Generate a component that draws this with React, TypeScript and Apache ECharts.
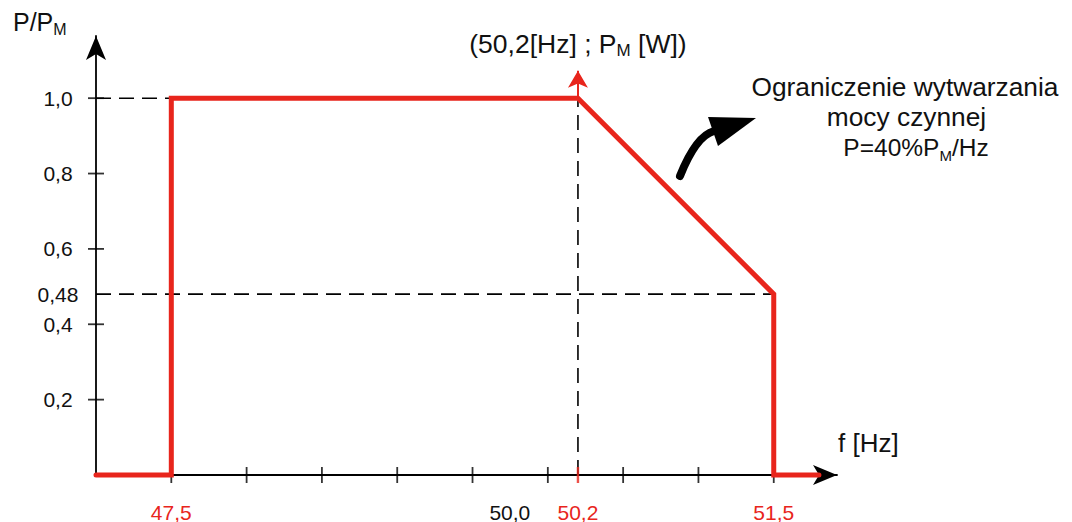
import React, { useEffect, useRef } from 'react';
import * as echarts from 'echarts';

// ---- data ----
const curveFreq = [47.0, 47.5, 47.5, 50.2, 51.5, 51.5, 51.8];
const curvePower = [0, 0, 1.0, 1.0, 0.48, 0, 0];
const xTickValues = [47.5, 48, 48.5, 49, 49.5, 50, 50.5, 51, 51.5];
const xLabelValues = [47.5, 50.0, 50.2, 51.5];
const redXLabels = [47.5, 50.2, 51.5];
const yTickValues = [0.2, 0.4, 0.6, 0.8, 1.0];
const yLabelValues = [0.2, 0.4, 0.48, 0.6, 0.8, 1.0];
const breakFreq = 50.2;
const breakPower = 1.0;
const endFreq = 51.5;
const endPower = 0.48;
const startFreq = 47.5;

const X_MIN = 47;
const X_MAX = 51.92;
const Y_MAX = 1.165;

const RED = '#E8251C';
const INK = '#111111';
const FONT = "'Liberation Sans', Arial, Helvetica, sans-serif";

const fmt = (v: number) => {
  const s = Math.round(v * 100) % 10 !== 0 ? v.toFixed(2) : v.toFixed(1);
  return s.replace('.', ',');
};

export default function App() {
  const ref = useRef<HTMLDivElement>(null);
  useEffect(() => {
    const chart = echarts.init(ref.current!, null, { renderer: 'svg' });
    const curve = curveFreq.map((f, i) => [f, curvePower[i]]);
    const dash = [15, 8];
    chart.setOption({
      animation: false,
      backgroundColor: '#ffffff',
      grid: { left: 96, right: 235, top: 36, bottom: 47, outerBoundsMode: 'none' },
      xAxis: {
        type: 'value',
        min: X_MIN,
        max: X_MAX,
        axisLine: {
          show: true,
          onZero: false,
          symbol: ['none', 'arrow'],
          symbolSize: [15, 24],
          lineStyle: { color: '#000', width: 1.8 },
        },
        axisTick: { show: false },
        splitLine: { show: false },
        axisLabel: {
          customValues: xLabelValues,
          margin: 37,
          verticalAlign: 'middle',
          fontSize: 21,
          lineHeight: 18,
          fontFamily: FONT,
          color: (v: any) => (redXLabels.indexOf(Number(v)) >= 0 ? RED : INK),
          formatter: (v: number) => (redXLabels.indexOf(v) >= 0 ? fmt(v) : '{o|' + fmt(v) + '}'),
          rich: {
            o: { fontSize: 21, lineHeight: 18, fontFamily: FONT, color: INK, padding: [0, 76, 0, 0] },
          },
        },
      },
      yAxis: {
        type: 'value',
        min: 0,
        max: Y_MAX,
        axisLine: {
          show: true,
          onZero: false,
          symbol: ['none', 'arrow'],
          symbolSize: [15, 24],
          lineStyle: { color: '#000', width: 1.8 },
        },
        axisTick: { show: false },
        splitLine: { show: false },
        axisLabel: {
          customValues: yLabelValues,
          align: 'center',
          margin: 38,
          fontSize: 21,
          fontFamily: FONT,
          color: INK,
          formatter: (v: number) => fmt(v),
        },
      },
      series: [
        {
          type: 'scatter',
          silent: true,
          clip: false,
          symbol: 'rect',
          symbolSize: [1.8, 16],
          itemStyle: { color: '#000' },
          z: 1,
          data: xTickValues.map((v) => [v, 0]),
        },
        {
          type: 'scatter',
          silent: true,
          clip: false,
          symbol: 'rect',
          symbolSize: [16, 1.8],
          itemStyle: { color: '#000' },
          z: 1,
          data: yTickValues.map((v) => [X_MIN, v]),
        },
        {
          type: 'line',
          silent: true,
          showSymbol: false,
          symbol: 'none',
          clip: false,
          lineStyle: { color: '#000', width: 1.6, type: dash },
          z: 1,
          data: [[X_MIN, breakPower], [startFreq, breakPower]],
        },
        {
          type: 'line',
          silent: true,
          showSymbol: false,
          symbol: 'none',
          clip: false,
          lineStyle: { color: '#000', width: 1.6, type: dash },
          z: 1,
          data: [[X_MIN, endPower], [endFreq, endPower]],
        },
        {
          type: 'line',
          silent: true,
          showSymbol: false,
          symbol: 'none',
          clip: false,
          lineStyle: { color: '#000', width: 1.6, type: dash },
          z: 1,
          data: [[breakFreq, 0], [breakFreq, breakPower]],
          markLine: {
            silent: true,
            animation: false,
            symbol: ['none', 'arrow'],
            symbolSize: [15, 17],
            label: { show: false },
            lineStyle: { color: RED, width: 2, type: 'solid' },
            data: [[{ coord: [breakFreq, breakPower] }, { coord: [breakFreq, 1.073] }]],
          },
        },
        {
          type: 'scatter',
          silent: true,
          clip: false,
          symbol: 'rect',
          symbolSize: [2.4, 16],
          itemStyle: { color: RED },
          z: 3,
          data: [[breakFreq, 0]],
        },
        {
          type: 'line',
          silent: true,
          showSymbol: false,
          symbol: 'none',
          clip: false,
          lineStyle: { color: RED, width: 5, cap: 'round', join: 'miter' },
          z: 4,
          data: curve,
        },
      ],
    });

    const [tx] = chart.convertToPixel({ gridIndex: 0 }, [breakFreq, breakPower]) as number[];
    const big = (size: number) => ({ fontSize: size, fontFamily: FONT, fill: INK, lineHeight: 30 });
    const sub = (size: number) => ({ fontSize: size, fontFamily: FONT, fill: INK, lineHeight: 18, verticalAlign: 'bottom' });
    chart.setOption({
      graphic: [
        {
          type: 'text',
          silent: true,
          style: {
            text: '{a|P/P}{s|M}',
            x: 13,
            y: 22,
            align: 'left',
            verticalAlign: 'middle',
            rich: { a: big(25), s: sub(16) },
          },
        },
        {
          type: 'text',
          silent: true,
          style: {
            text: '{a|(50,2[Hz] ; P}{s|M}{a| [W])}',
            x: tx,
            y: 43.5,
            align: 'center',
            verticalAlign: 'middle',
            rich: { a: big(26.5), s: sub(17) },
          },
        },
        {
          type: 'text',
          silent: true,
          style: {
            text: 'f [Hz]',
            x: 838,
            y: 443,
            align: 'left',
            verticalAlign: 'middle',
            fontSize: 26,
            fontFamily: FONT,
            fill: INK,
          },
        },
        {
          type: 'text',
          silent: true,
          style: {
            text: 'Ograniczenie wytwarzania',
            x: 905,
            y: 86.5,
            align: 'center',
            verticalAlign: 'middle',
            fontSize: 26.3,
            fontFamily: FONT,
            fill: INK,
          },
        },
        {
          type: 'text',
          silent: true,
          style: {
            text: 'mocy czynnej',
            x: 906.5,
            y: 117,
            align: 'center',
            verticalAlign: 'middle',
            fontSize: 26.3,
            fontFamily: FONT,
            fill: INK,
          },
        },
        {
          type: 'text',
          silent: true,
          style: {
            text: '{a|P=40%P}{s|M}{a|/Hz}',
            x: 916,
            y: 147.5,
            align: 'center',
            verticalAlign: 'middle',
            rich: { a: big(24.5), s: sub(15) },
          },
        },
        {
          type: 'bezierCurve',
          silent: true,
          shape: { x1: 680, y1: 176, cpx1: 696, cpy1: 136, x2: 714, y2: 131 },
          style: { stroke: '#000', lineWidth: 8, fill: null, lineCap: 'round' },
        },
        {
          type: 'polygon',
          silent: true,
          shape: { points: [[708, 117], [756, 118], [718, 146]] },
          style: { fill: '#000' },
        },
      ],
    });
    return () => chart.dispose();
  }, []);
  return (
    <div
      ref={ref}
      style={{ position: 'fixed', left: 0, top: 0, width: 1072, height: 522, background: '#fff' }}
    />
  );
}
